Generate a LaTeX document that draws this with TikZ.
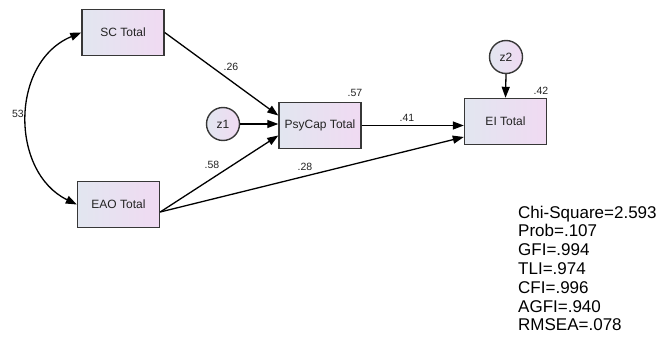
\documentclass[tikz,border=0pt]{standalone}
\usepackage{fontspec}
\setmainfont{Liberation Sans}
\usetikzlibrary{arrows.meta,calc}
\definecolor{shL}{RGB}{226,230,240}
\definecolor{shR}{RGB}{240,218,242}
\definecolor{bd}{RGB}{55,55,55}
\definecolor{tx}{RGB}{35,35,35}
\begin{document}
\begin{tikzpicture}[x=1pt,y=-1pt,
  var/.style={draw=bd, line width=1.4pt, left color=shL, right color=shR,
    minimum width=82pt, minimum height=46pt, inner sep=0pt,
    font=\fontsize{12}{14}\selectfont, text=tx},
  err/.style={circle, draw=bd, line width=1.4pt, left color=shL, right color=shR,
    minimum size=33pt, inner sep=0pt, font=\fontsize{12}{14}\selectfont, text=tx},
  arr/.style={line width=1.3pt, -{Triangle[length=11pt,width=8pt]}},
  darr/.style={line width=1.3pt, {Triangle[length=11pt,width=8pt]}-{Triangle[length=11pt,width=8pt]}},
  lab/.style={font=\fontsize{10.5}{12}\selectfont, text=tx, inner sep=0pt},
  stat/.style={font=\fontsize{17}{19}\selectfont, text=black, inner sep=0pt, anchor=base west}
]
\useasboundingbox (0,0) rectangle (668,337);

\node[var] (SC)  at (123,32.5)  {SC Total};
\node[var] (EAO) at (118.5,204.5) {EAO Total};
\node[var] (Psy) at (320,125.5) {PsyCap Total};
\node[var] (EI)  at (505.5,121.5) {EI Total};
\node[err] (z1)  at (223,124) {z1};
\node[err] (z2)  at (506,57) {z2};

\coordinate (eaoOut) at ($(EAO.east)+(0,7.5)$);

\draw[darr] (SC.west) .. controls (10,62) and (10,172) .. (EAO.west);
\draw[arr] (SC.east) -- ($(Psy.west)+(0,-10)$);
\draw[arr] (z1.east) -- (z1.east -| Psy.west);
\draw[arr] (eaoOut) -- ($(Psy.west)+(0,10)$);
\draw[arr] (eaoOut) -- ($(EI.west)+(0,15.5)$);
\draw[arr] (Psy.east) -- (Psy.east -| EI.west);
\draw[arr] (z2.south) -- (EI.north);

\node[lab] (l26) at (231,67) {.26};
\node[lab] (l53) at (18,114) {53};
\node[lab] (l58) at (212,165) {.58};
\node[lab] (l28) at (305,167) {.28};
\node[lab] (l57) at (355,93) {.57};
\node[lab] (l41) at (407,118) {.41};
\node[lab] (l42) at (541,91) {.42};

\foreach \t [count=\i from 0] in {Chi-Square=2.593,Prob=.107,GFI=.994,TLI=.974,CFI=.996,AGFI=.940,RMSEA=.078}
  \node[stat] (s\i) at (518,{218+18.8*\i}) {\t};
\end{tikzpicture}
\end{document}
